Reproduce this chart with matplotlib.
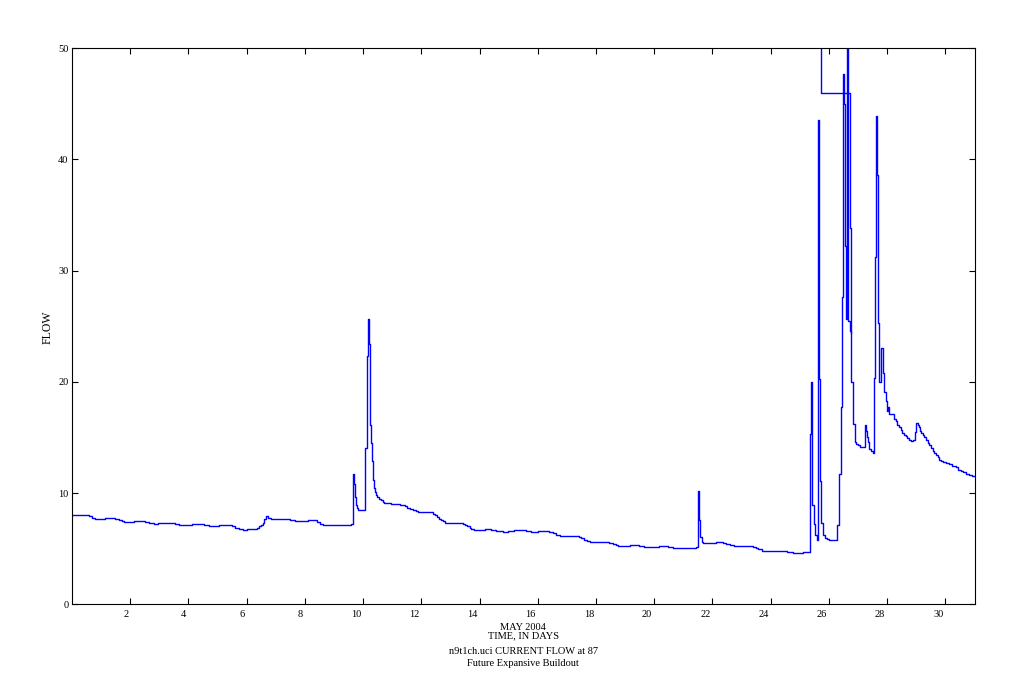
import matplotlib
matplotlib.use("Agg")
import matplotlib.pyplot as plt
from matplotlib.transforms import ScaledTranslation

plt.rcParams['font.family'] = ['Liberation Serif', 'DejaVu Serif']

# Flow time series (day of month, flow), stepwise
t_days = [0.00, 0.49, 0.59, 0.69, 0.80, 1.14, 1.49, 1.60, 1.71, 1.79, 2.14, 2.52, 2.65, 2.83, 2.97,
          3.54, 3.66, 3.77, 4.12, 4.52, 4.69, 5.05, 5.49, 5.60, 5.72, 5.89, 6.00, 6.34, 6.42, 6.48,
          6.55, 6.61, 6.65, 6.74, 6.83, 6.89, 7.49, 7.66, 8.12, 8.40, 8.52, 8.63, 9.32, 9.43, 9.60,
          9.66, 9.69, 9.72, 9.76, 9.80, 9.83, 9.89, 10.06, 10.13, 10.15, 10.18, 10.21, 10.23, 10.28,
          10.31, 10.35, 10.38, 10.41, 10.45, 10.48, 10.54, 10.61, 10.69, 10.72, 10.97, 11.26, 11.43,
          11.52, 11.60, 11.70, 11.80, 11.90, 12.40, 12.48, 12.55, 12.62, 12.69, 12.75, 12.80, 13.43,
          13.49, 13.58, 13.66, 13.72, 13.80, 14.18, 14.40, 14.58, 14.81, 14.98, 15.17, 15.58, 15.75,
          16.00, 16.40, 16.52, 16.63, 16.75, 17.40, 17.49, 17.60, 17.69, 17.78, 18.46, 18.58, 18.69,
          18.77, 19.15, 19.46, 19.66, 20.18, 20.46, 20.66, 21.43, 21.49, 21.51, 21.55, 21.58, 21.63,
          21.66, 22.12, 22.35, 22.46, 22.61, 22.73, 23.38, 23.49, 23.58, 23.70, 23.80, 24.18, 24.37,
          24.55, 24.75, 25.12, 25.36, 25.38, 25.40, 25.43, 25.48, 25.52, 25.58, 25.63, 25.67, 25.71,
          25.74, 25.78, 25.81, 25.87, 25.95, 26.01, 26.29, 26.33, 26.36, 26.40, 26.43, 26.46, 26.48,
          26.50, 26.53, 26.55, 26.58, 26.61, 26.64, 26.73, 26.77, 26.81, 26.84, 26.88, 26.92, 26.99,
          27.07, 27.23, 27.29, 27.32, 27.35, 27.39, 27.43, 27.50, 27.55, 27.59, 27.61, 27.65, 27.67,
          27.69, 27.71, 27.73, 27.78, 27.84, 27.89, 27.95, 27.98, 28.03, 28.07, 28.12, 28.23, 28.29,
          28.35, 28.40, 28.46, 28.52, 28.58, 28.63, 28.69, 28.75, 28.81, 28.89, 28.96, 29.00, 29.05,
          29.08, 29.12, 29.16, 29.22, 29.27, 29.33, 29.39, 29.45, 29.50, 29.56, 29.62, 29.68, 29.73,
          29.79, 29.85, 29.91, 30.01, 30.12, 30.24, 30.35, 30.45, 30.52, 30.61, 30.70, 30.81, 30.92,
          31.00]
flow = [8.05, 8.00, 7.90, 7.80, 7.66, 7.78, 7.70, 7.60, 7.51, 7.43, 7.51, 7.43, 7.33, 7.24, 7.33,
        7.24, 7.15, 7.09, 7.18, 7.09, 7.00, 7.09, 7.00, 6.90, 6.80, 6.64, 6.73, 6.85, 7.00, 7.15,
        7.30, 7.70, 7.90, 7.80, 7.70, 7.66, 7.54, 7.45, 7.54, 7.40, 7.20, 7.09, 7.15, 7.09, 7.18,
        11.73, 10.77, 9.63, 8.90, 8.70, 8.50, 8.44, 14.07, 19.80, 22.35, 25.65, 23.40, 16.10, 14.50,
        12.90, 11.20, 10.45, 10.10, 9.78, 9.60, 9.50, 9.34, 9.20, 9.13, 9.04, 8.95, 8.83,
        8.70, 8.56, 8.45, 8.35, 8.26, 8.15, 8.00, 7.85, 7.70, 7.60, 7.49, 7.33, 7.24,
        7.12, 7.00, 6.88, 6.79, 6.70, 6.79, 6.70, 6.61, 6.52, 6.61, 6.70, 6.61, 6.52,
        6.61, 6.50, 6.38, 6.26, 6.16, 6.04, 5.92, 5.80, 5.70, 5.62, 5.53, 5.44, 5.35,
        5.27, 5.36, 5.27, 5.17, 5.27, 5.17, 5.09, 5.17, 10.08, 10.14, 7.54, 6.05, 5.60,
        5.53, 5.62, 5.53, 5.44, 5.35, 5.26, 5.17, 5.05, 4.94, 4.82, 4.76, 4.82, 4.76,
        4.67, 4.58, 4.67, 15.30, 19.30, 20.00, 8.90, 7.20, 6.20, 5.80, 43.50, 20.26, 11.10,
        7.30, 6.50, 6.20, 6.00, 5.90, 5.80, 7.10, 11.00, 11.70, 14.10, 17.70, 27.60, 44.90,
        47.70, 45.00, 32.20, 25.60, 60.00, 25.50, 24.60, 20.00, 17.20, 16.20, 14.60, 14.40, 14.30,
        14.10, 16.10, 15.60, 15.00, 14.60, 14.00, 13.80, 13.60, 20.30, 31.20, 43.90, 38.60, 27.70,
        25.30, 22.20, 20.00, 23.00, 20.80, 19.10, 18.30, 17.40, 17.70, 17.10, 17.06, 16.67, 16.45,
        16.16, 15.92, 15.68, 15.44, 15.26, 15.11, 14.96, 14.81, 14.66, 14.78, 15.50, 16.30, 16.10,
        15.90, 15.60, 15.40, 15.20, 15.00, 14.80, 14.50, 14.30, 14.05, 13.80, 13.60, 13.40, 13.20,
        13.00, 12.90, 12.80, 12.70, 12.60, 12.40, 12.30, 12.10, 12.00, 11.90, 11.70, 11.58, 11.50,
        11.50]

# Off-scale record drawn by the original plot around day 25.7-26.8
glitch_t = [25.74, 25.74, 26.73, 26.77]
glitch_flow = [60.0, 46.0, 33.8, 24.4]

x_ticks = list(range(2, 31, 2))
y_ticks = [0, 10, 20, 30, 40, 50]

W, H = 1022, 700
fig = plt.figure(figsize=(W / 100, H / 100), dpi=100)
L, R, T, B = 72, 974.5, 48, 604.3
ax = fig.add_axes([L / W, (H - B) / H, (R - L) / W, (B - T) / H])

ax.plot(t_days, flow, drawstyle='steps-post', color='#0000ff', lw=1.0)
ax.plot(glitch_t, glitch_flow, drawstyle='steps-post', color='#0000ff', lw=1.0)

ax.set_xlim(0, 31)
ax.set_ylim(0, 50)
ax.set_xticks(x_ticks)
ax.set_yticks(y_ticks)
ax.tick_params(direction='in', length=4.5, width=0.8, top=True, right=True,
               labelsize=7.5, colors='black')
ax.tick_params(axis='x', pad=4)
ax.tick_params(axis='y', pad=2.5)
shift = ScaledTranslation(-2 / 100, 0, fig.dpi_scale_trans)
for lab in ax.get_xticklabels():
    lab.set_ha('right')
    lab.set_transform(lab.get_transform() + shift)
for s in ax.spines.values():
    s.set_linewidth(0.8)
    s.set_color('black')

fig.text(48 / W, 1 - 327 / H, 'FLOW', rotation=90, ha='center', va='center', fontsize=8.5)

cx = (L + R) / 2 / W
fig.text(cx, 1 - 627 / H, 'MAY 2004', ha='center', va='center', fontsize=7.5)
fig.text(cx, 1 - 636 / H, 'TIME, IN DAYS', ha='center', va='center', fontsize=7.5)
fig.text(cx, 1 - 651 / H, 'n9t1ch.uci CURRENT FLOW at 87', ha='center', va='center', fontsize=7.5)
fig.text(cx, 1 - 663 / H, 'Future Expansive Buildout', ha='center', va='center', fontsize=7.5)

fig.savefig('out.png', dpi=100)
